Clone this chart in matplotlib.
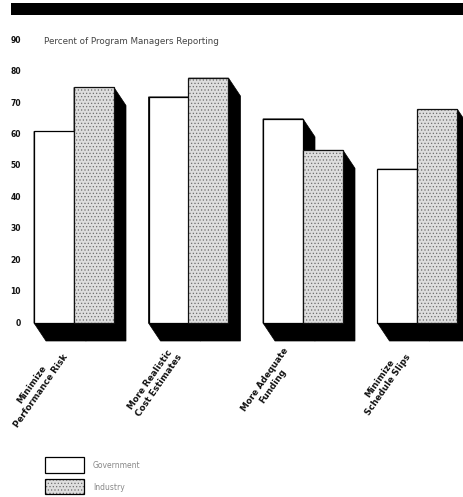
import matplotlib
matplotlib.use("Agg")
import matplotlib.pyplot as plt
from matplotlib.patches import Rectangle, Polygon
from matplotlib.transforms import blended_transform_factory

categories = ["Minimize\nPerformance Risk", "More Realistic\nCost Estimates",
              "More Adequate\nFunding", "Minimize\nSchedule Slips"]
government = [61, 72, 65, 49]
industry = [75, 78, 55, 68]
yticks = [0, 10, 20, 30, 40, 50, 60, 70, 80, 90]

plt.rcParams["hatch.linewidth"] = 0.5

W, H = 464, 497
fig = plt.figure(figsize=(W / 100, H / 100), dpi=100)
fig.patch.set_facecolor("white")

def fx(px):
    return px / W

def fy(py):
    return 1 - py / H

# plot area: zero line at y=323px, 90 at y=40px
ax = fig.add_axes([0, fy(323), 1, fy(40.4) - fy(323)])
spacing_px = 114.5
c0_px = 74
ax.set_xlim(-c0_px / spacing_px, (W - c0_px) / spacing_px)
ax.set_ylim(0, 90)
ax.axis("off")

bw = 40 / spacing_px
# shadow extrusion offset in data units (12 px right, 18 px down)
px_per_x = W / (ax.get_xlim()[1] - ax.get_xlim()[0])
px_per_y = (323 - 40.4) / 90
sdx = 12 / px_per_x
sdy = 18 / px_per_y

def shadow(left, right, top):
    pts = [(left, top), (right, top), (right + sdx, top - sdy),
           (right + sdx, -sdy), (left + sdx, -sdy), (left, 0)]
    ax.add_patch(Polygon(pts, closed=True, facecolor="black", edgecolor="black",
                         linewidth=0.5, clip_on=False, zorder=1))

for i, (g, ind) in enumerate(zip(government, industry)):
    shadow(i - bw, i, g)
    shadow(i, i + bw, ind)

STIPPLE_FACE = "#dedede"
STIPPLE_DOTS = "#6e6e6e"
STIPPLE = "....."

for i, (g, ind) in enumerate(zip(government, industry)):
    ax.bar(i - bw / 2, g, width=bw, color="white", edgecolor="black",
           linewidth=0.9, zorder=3, clip_on=False)
    # stippled fill, then a crisp outline on top
    ax.bar(i + bw / 2, ind, width=bw, color=STIPPLE_FACE, edgecolor=STIPPLE_DOTS,
           linewidth=0, hatch=STIPPLE, zorder=3, clip_on=False)
    ax.bar(i + bw / 2, ind, width=bw, fill=False, edgecolor="#111111",
           linewidth=0.9, zorder=4, clip_on=False)

# y tick labels
tr = blended_transform_factory(ax.transAxes, ax.transData)
for v in yticks:
    ax.text(fx(21), v, str(v), transform=tr, ha="right", va="center",
            fontsize=5.5, fontweight="bold", color="#111111")

fig.text(fx(44), fy(41), "Percent of Program Managers Reporting",
         ha="left", va="center", fontsize=6.3, color="#444444")

# category labels
for i, lab in enumerate(categories):
    ax.text(i - 0.18, -7.5, lab, rotation=55, rotation_mode="anchor",
            ha="right", va="top", multialignment="center",
            fontsize=6.3, fontweight="bold", color="#111111", clip_on=False)

# heavy rule across the top
fig.patches.append(Rectangle((fx(11), fy(15)), fx(W) - fx(11), fy(3) - fy(15),
                             transform=fig.transFigure, facecolor="black",
                             edgecolor="none"))

# legend
fig.patches.append(Rectangle((fx(45), fy(473)), fx(84) - fx(45), fy(457) - fy(473),
                             transform=fig.transFigure, facecolor="white",
                             edgecolor="black", linewidth=0.9))
fig.patches.append(Rectangle((fx(45), fy(494)), fx(84) - fx(45), fy(479) - fy(494),
                             transform=fig.transFigure, facecolor=STIPPLE_FACE,
                             edgecolor=STIPPLE_DOTS, linewidth=0, hatch=STIPPLE))
fig.patches.append(Rectangle((fx(45), fy(494)), fx(84) - fx(45), fy(479) - fy(494),
                             transform=fig.transFigure, fill=False,
                             edgecolor="black", linewidth=0.9))
fig.text(fx(93), fy(465), "Government", ha="left", va="center",
         fontsize=5.5, color="#888888")
fig.text(fx(93), fy(487), "Industry", ha="left", va="center",
         fontsize=5.5, color="#888888")

fig.savefig("out.png", dpi=100, facecolor="white")
